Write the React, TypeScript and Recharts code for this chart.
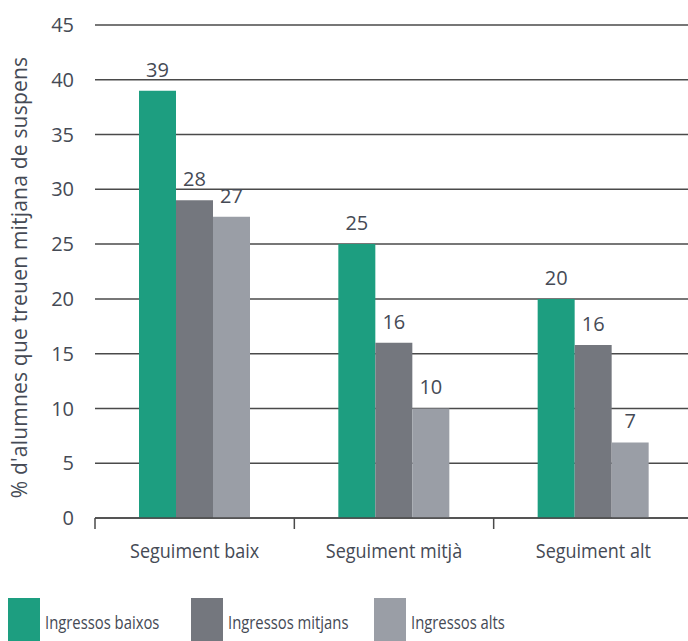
import React from 'react';
import {
  BarChart,
  Bar,
  XAxis,
  YAxis,
  CartesianGrid,
  LabelList,
} from 'recharts';

const categories = ['Seguiment baix', 'Seguiment mitjà', 'Seguiment alt'];

// bar heights as drawn, and the labels printed above them
const lowIncome = [39, 25, 20];
const midIncome = [29, 16, 15.8];
const highIncome = [27.5, 10, 6.9];
const lowLabels = ['39', '25', '20'];
const midLabels = ['28', '16', '16'];
const highLabels = ['27', '10', '7'];

const yTicks = [0, 5, 10, 15, 20, 25, 30, 35, 40, 45];

const SERIES = [
  { key: 'low', label: 'lowLabel', name: 'Ingressos baixos', color: '#1d9e80' },
  { key: 'mid', label: 'midLabel', name: 'Ingressos mitjans', color: '#74777e' },
  { key: 'high', label: 'highLabel', name: 'Ingressos alts', color: '#9a9ea6' },
];

const TEXT = '#454a55';
const GRID = '#4a4a4a';
const FONT = '"Open Sans", "DejaVu Sans", sans-serif';

const data = categories.map((name, i) => ({
  name,
  low: lowIncome[i],
  mid: midIncome[i],
  high: highIncome[i],
  lowLabel: lowLabels[i],
  midLabel: midLabels[i],
  highLabel: highLabels[i],
}));

const WIDTH = 688;
const HEIGHT = 641;
const Y_AXIS_W = 95;
const RIGHT = -5;
const BAND_HALF = (WIDTH - Y_AXIS_W - RIGHT) / categories.length / 2;

const CategoryTick = (props: any) => {
  const { x, y, payload } = props;
  const half = payload?.offset || BAND_HALF;
  const top = y - 8;
  return (
    <g>
      <line x1={x - half} x2={x - half} y1={top} y2={top + 11} stroke={GRID} strokeWidth={1.5} />
      <text
        x={x}
        y={top + 33}
        textAnchor="middle"
        dy="0.355em"
        fill={TEXT}
        fontSize={20}
        fontFamily={FONT}
        transform={`translate(${x} 0) scale(0.9 1) translate(${-x} 0)`}
      >
        {payload.value}
      </text>
    </g>
  );
};

export default function App() {
  return (
    <div style={{ position: 'absolute', left: 0, top: 0, width: WIDTH, height: HEIGHT, background: '#fff' }}>
      <BarChart
        width={WIDTH}
        height={HEIGHT}
        data={data}
        margin={{ top: 25, right: RIGHT, bottom: 0, left: 0 }}
        barGap={0}
        barSize={37}
      >
        <CartesianGrid vertical={false} stroke={GRID} strokeWidth={1.5} />
        <XAxis
          dataKey="name"
          height={123}
          axisLine={{ stroke: GRID, strokeWidth: 1.5 }}
          tickLine={false}
          tick={<CategoryTick />}
          interval={0}
        />
        <YAxis
          width={Y_AXIS_W}
          domain={[0, 45]}
          ticks={yTicks}
          axisLine={false}
          tickLine={false}
          tickMargin={15}
          tick={{ fontSize: 20, fill: TEXT, fontFamily: FONT }}
          label={{
            value: "% d'alumnes que treuen mitjana de suspens",
            angle: -90,
            position: 'insideLeft',
            offset: 20,
            dy: 6,
            style: { textAnchor: 'middle', fontSize: 21, letterSpacing: 0.2, fill: TEXT, fontFamily: FONT },
          }}
        />
        {SERIES.map((s) => (
          <Bar key={s.key} dataKey={s.key} name={s.name} fill={s.color} isAnimationActive={false}>
            <LabelList
              dataKey={s.label}
              position="top"
              offset={14}
              fill={TEXT}
              fontSize={20}
              fontFamily={FONT}
            />
          </Bar>
        ))}
      </BarChart>
      <div style={{ position: 'absolute', left: 0, top: 598, width: WIDTH, height: 43 }}>
        {SERIES.map((s, i) => (
          <div
            key={s.key}
            style={{
              position: 'absolute',
              left: 8 + i * 183,
              top: 0,
              display: 'flex',
              alignItems: 'center',
              height: 48,
            }}
          >
            <div style={{ width: 32, height: 48, background: s.color }} />
            <span
              style={{
                marginLeft: 5,
                fontSize: 19,
                color: TEXT,
                fontFamily: FONT,
                whiteSpace: 'nowrap',
                display: 'inline-block',
                transform: 'scaleX(0.78)',
                transformOrigin: 'left center',
              }}
            >
              {s.name}
            </span>
          </div>
        ))}
      </div>
    </div>
  );
}
